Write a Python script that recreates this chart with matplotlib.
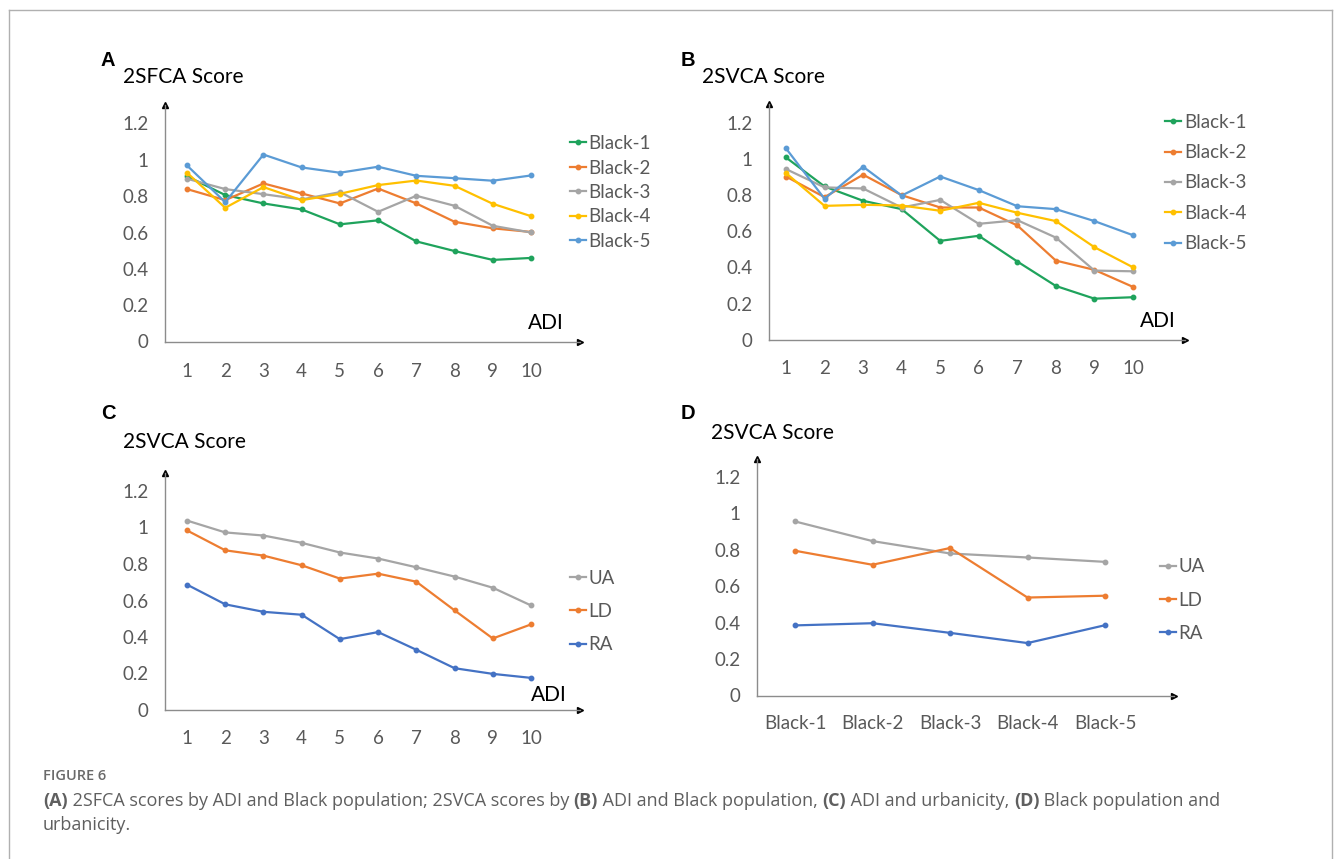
import matplotlib
matplotlib.use("Agg")
import matplotlib.pyplot as plt
from matplotlib.lines import Line2D

plt.rcParams['font.family'] = ['Lato', 'DejaVu Sans']

# ---- data ----
adi = [1, 2, 3, 4, 5, 6, 7, 8, 9, 10]
black_groups = ['Black-1', 'Black-2', 'Black-3', 'Black-4', 'Black-5']

# A: 2SFCA score by ADI and Black population
a_black1 = [0.91, 0.806, 0.76, 0.727, 0.645, 0.667, 0.551, 0.498, 0.449, 0.46]
a_black2 = [0.839, 0.778, 0.87, 0.815, 0.76, 0.842, 0.76, 0.659, 0.623, 0.603]
a_black3 = [0.896, 0.839, 0.811, 0.782, 0.822, 0.714, 0.802, 0.747, 0.637, 0.60]
a_black4 = [0.929, 0.736, 0.85, 0.778, 0.813, 0.861, 0.886, 0.857, 0.758, 0.69]
a_black5 = [0.969, 0.767, 1.029, 0.958, 0.929, 0.962, 0.912, 0.899, 0.885, 0.914]

# B: 2SVCA score by ADI and Black population
b_black1 = [1.007, 0.847, 0.768, 0.722, 0.547, 0.575, 0.433, 0.298, 0.228, 0.236]
b_black2 = [0.902, 0.788, 0.912, 0.799, 0.731, 0.731, 0.632, 0.438, 0.387, 0.293]
b_black3 = [0.943, 0.842, 0.836, 0.731, 0.773, 0.641, 0.661, 0.565, 0.383, 0.379]
b_black4 = [0.921, 0.740, 0.746, 0.742, 0.713, 0.757, 0.702, 0.656, 0.512, 0.401]
b_black5 = [1.057, 0.779, 0.956, 0.797, 0.902, 0.827, 0.738, 0.722, 0.656, 0.578]

# C: 2SVCA score by ADI and urbanicity
c_ua = [1.038, 0.973, 0.956, 0.916, 0.863, 0.830, 0.782, 0.731, 0.670, 0.573]
c_ld = [0.984, 0.875, 0.846, 0.793, 0.720, 0.747, 0.703, 0.546, 0.392, 0.469]
c_ra = [0.687, 0.579, 0.538, 0.522, 0.388, 0.427, 0.330, 0.229, 0.198, 0.176]

# D: 2SVCA score by Black population and urbanicity
d_ua = [0.956, 0.848, 0.780, 0.758, 0.734]
d_ld = [0.795, 0.718, 0.810, 0.538, 0.548]
d_ra = [0.385, 0.397, 0.344, 0.288, 0.386]

y_ticks = [0, 0.2, 0.4, 0.6, 0.8, 1.0, 1.2]
y_labels = ['0', '0.2', '0.4', '0.6', '0.8', '1', '1.2']

GREEN = '#1FA35C'
ORANGE = '#ED7D31'
GRAY = '#A5A5A5'
YELLOW = '#FFC000'
LBLUE = '#5B9BD5'
DBLUE = '#4472C4'
TXT = '#595959'

W, H = 1335, 859
fig = plt.figure(figsize=(W / 100, H / 100), dpi=100)


def make_axes(n, x1, xn, spine, arrow, y0, y12, xpad, ymax=1.3):
    # place an axes from pixel positions of the first/last category and 0/1.2
    dx = (xn - x1) / (n - 1)
    sy = (y0 - y12) / 1.2
    top = y0 - ymax * sy
    ax = fig.add_axes([spine / W, 1 - y0 / H, (arrow - spine) / W, (y0 - top) / H])
    ax.set_xlim(1 + (spine - x1) / dx, 1 + (arrow - x1) / dx)
    ax.set_ylim(0, ymax)
    for s in ['top', 'right']:
        ax.spines[s].set_visible(False)
    for s in ['left', 'bottom']:
        ax.spines[s].set_color('#8c8c8c')
        ax.spines[s].set_linewidth(1.0)
    ax.plot([1], [0], marker='>', color='black', markersize=5, transform=ax.transAxes, clip_on=False)
    ax.plot([0], [1], marker='^', color='black', markersize=5, transform=ax.transAxes, clip_on=False)
    ax.set_yticks(y_ticks)
    ax.set_yticklabels(y_labels)
    ax.tick_params(length=0, labelsize=13.5, labelcolor=TXT)
    ax.tick_params(axis='x', pad=xpad)
    ax.tick_params(axis='y', pad=12)
    ax.patch.set_alpha(0)
    return ax


def draw(ax, xs, ys, color, label):
    ax.plot(xs, ys, color=color, lw=1.6, marker='o', markersize=3.2, label=label, clip_on=False)


def legend(ax, x, yc, spacing):
    lg = ax.legend(loc='center left', bbox_to_anchor=(x / W, 1 - yc / H), bbox_transform=fig.transFigure,
                   frameon=False, fontsize=13.5, handlelength=0.85, handletextpad=0.15,
                   borderpad=0, borderaxespad=0, labelspacing=spacing, numpoints=1)
    for t in lg.get_texts():
        t.set_color(TXT)


def fig_text(x, y, s, **kw):
    return fig.text(x / W, 1 - y / H, s, **kw)


# ---- panel A ----
axA = make_axes(10, 187, 531, 165, 580, 341.5, 123.5, 15.5)
for ys, c, lb in zip([a_black1, a_black2, a_black3, a_black4, a_black5],
                     [GREEN, ORANGE, GRAY, YELLOW, LBLUE], black_groups):
    draw(axA, adi, ys, c, lb)
axA.set_xticks(adi)
legend(axA, 570, 192.5, 0.4)
fig_text(546, 323, 'ADI', fontsize=15, ha='center', va='center')
fig_text(123, 77, '2SFCA Score', fontsize=15, ha='left', va='center')

# ---- panel B ----
axB = make_axes(10, 786, 1133, 769, 1185, 340, 122.5, 14.5)
for ys, c, lb in zip([b_black1, b_black2, b_black3, b_black4, b_black5],
                     [GREEN, ORANGE, GRAY, YELLOW, LBLUE], black_groups):
    draw(axB, adi, ys, c, lb)
axB.set_xticks(adi)
legend(axB, 1165, 183, 0.71)
fig_text(1158, 321, 'ADI', fontsize=15, ha='center', va='center')
fig_text(702, 77, '2SVCA Score', fontsize=15, ha='left', va='center')

# ---- panel C ----
axC = make_axes(10, 187, 531, 165, 580, 710, 491, 14.5)
for ys, c, lb in zip([c_ua, c_ld, c_ra], [GRAY, ORANGE, DBLUE], ['UA', 'LD', 'RA']):
    draw(axC, adi, ys, c, lb)
axC.set_xticks(adi)
legend(axC, 570, 611.5, 0.86)
fig_text(549, 695, 'ADI', fontsize=15, ha='center', va='center')
fig_text(123, 442, '2SVCA Score', fontsize=15, ha='left', va='center')

# ---- panel D ----
axD = make_axes(5, 795, 1105, 757, 1174, 695.5, 477, 14)
pos = list(range(1, len(black_groups) + 1))
for ys, c, lb in zip([d_ua, d_ld, d_ra], [GRAY, ORANGE, DBLUE], ['UA', 'LD', 'RA']):
    draw(axD, pos, ys, c, lb)
axD.set_xticks(pos)
axD.set_xticklabels(black_groups)
legend(axD, 1160, 600, 0.86)
fig_text(711, 433, '2SVCA Score', fontsize=15, ha='left', va='center')

# panel letters
for lt, x, y in [('A', 108, 60), ('B', 688, 60), ('C', 108, 413), ('D', 688, 413)]:
    fig_text(x, y, lt, fontsize=14.5, fontweight='bold', ha='center', va='center',
             family=['Liberation Sans', 'DejaVu Sans'])

# outer frame
for xs, ys in [([9, 1332], [10, 10]), ([9, 9], [10, 860]), ([1332, 1332], [10, 860])]:
    fig.add_artist(Line2D([x / W for x in xs], [1 - y / H for y in ys], color='#b0b0b0', lw=1.0))

# caption with bold panel refs
CAP = '#5f5f5f'
fig_text(43, 776, 'FIGURE 6', fontsize=10.5, color='#6a6a6a', ha='left', va='center',
         fontweight='semibold', family=['Open Sans'])
renderer = fig.canvas.get_renderer()
line1 = [('(A)', True), (' 2SFCA scores by ADI and Black population; 2SVCA scores by ', False),
         ('(B)', True), (' ADI and Black population, ', False), ('(C)', True),
         (' ADI and urbanicity, ', False), ('(D)', True), (' Black population and', False)]
x = 43
for s, b in line1:
    t = fig_text(x, 801, s, fontsize=13, color=CAP, ha='left', va='center',
                 fontweight='bold' if b else 'normal', family=['Open Sans'])
    x += t.get_window_extent(renderer).width
fig_text(43, 825, 'urbanicity.', fontsize=13, color=CAP, ha='left', va='center', family=['Open Sans'])

fig.savefig('out.png', dpi=100)
